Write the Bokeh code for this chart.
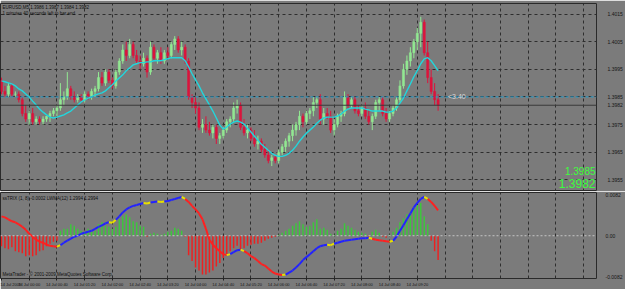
from bokeh.plotting import figure
from bokeh.layouts import column
from bokeh.models import Range1d, FixedTicker, Grid, Span, Label, BasicTickFormatter, ColumnDataSource
from bokeh.embed import file_html
from bokeh.resources import INLINE

# ---------------- texts ----------------
symbol_header = "EURUSD,M5  1.3986 1.3987 1.3984 1.3982"
timer_text = "1 minutes 40 seconds left to bar end"
indicator_header = "ssTRIX (1, 8) -0.0002  LWMA(12)  1.2994  1.2994"
copyright_text = "MetaTrader - \u00a9 2001-2009 MetaQuotes Software Corp."
line_label = "<3.40"
big_price_1 = "1.3985"
big_price_2 = "1.3982"

# ---------------- axes ----------------
time_tick_bars = [0, 8, 16, 24, 32, 40, 48, 56, 64, 72, 80, 88, 96, 104, 112, 120]
time_tick_labels = ["14 Jul 2009", "14 Jul 00:00", "14 Jul 00:40", "14 Jul 01:20", "14 Jul 02:00",
                    "14 Jul 02:40", "14 Jul 03:20", "14 Jul 04:00", "14 Jul 04:40", "14 Jul 05:20",
                    "14 Jul 06:00", "14 Jul 06:40", "14 Jul 07:20", "14 Jul 08:00", "14 Jul 08:40",
                    "14 Jul 09:20"]
grid_bars = [8, 16, 24, 32, 40, 48, 56, 64, 72, 80, 88, 96, 104, 112, 120, 128, 136, 144, 152, 160, 168]
price_ticks = [1.3955, 1.3965, 1.3975, 1.3985, 1.3995, 1.4005, 1.4015]
ind_ticks = [-0.0082, 0, 0.0082]
ind_tick_labels = ["-0.0082", "0.00", "0.0082"]
bid_price = 1.3982
hline_price = 1.3985

# ---------------- data ----------------
first_open = 1.3991
closes = [1.3987, 1.3986, 1.3989, 1.3986, 1.3986, 1.3984, 1.3979, 1.3977, 1.3979, 1.3976,
          1.3977, 1.3976, 1.3977, 1.3978, 1.3979, 1.3980, 1.3981, 1.3984, 1.3985, 1.3988,
          1.3985, 1.3984, 1.3985, 1.3984, 1.3986, 1.3985, 1.3987, 1.3988, 1.3992, 1.3990,
          1.3994, 1.3991, 1.3989, 1.3994, 1.3998, 1.4002, 1.4000, 1.4004, 1.4000, 1.3998,
          1.3997, 1.3999, 1.3994, 1.4003, 1.3999, 1.4001, 1.3998, 1.4001, 1.4000, 1.4004,
          1.4006, 1.4002, 1.4003, 1.3998, 1.3985, 1.3983, 1.3981, 1.3974, 1.3975, 1.3973,
          1.3972, 1.3974, 1.3970, 1.3971, 1.3973, 1.3976, 1.3977, 1.3981, 1.3982, 1.3974,
          1.3972, 1.3973, 1.3970, 1.3968, 1.3969, 1.3966, 1.3964, 1.3962, 1.3963, 1.3962,
          1.3965, 1.3967, 1.3969, 1.3971, 1.3973, 1.3975, 1.3978, 1.3976, 1.3979, 1.3980,
          1.3983, 1.3984, 1.3977, 1.3979, 1.3978, 1.3973, 1.3975, 1.3978, 1.3979, 1.3985,
          1.3982, 1.3984, 1.3980, 1.3979, 1.3981, 1.3978, 1.3976, 1.3978, 1.3983, 1.3984,
          1.3979, 1.3977, 1.3979, 1.3981, 1.3984, 1.3989, 1.3995, 1.3998, 1.4001, 1.4005,
          1.4008, 1.4012, 1.4001, 1.3992, 1.3987, 1.3984, 1.3982]
highs = [1.3992, 1.3989, 1.3990, 1.3990, 1.3987, 1.3987, 1.3985, 1.3982, 1.3980, 1.3981,
         1.3978, 1.3978, 1.3978, 1.3978, 1.3980, 1.3981, 1.3982, 1.3990, 1.3987, 1.3994,
         1.3989, 1.3987, 1.3986, 1.3986, 1.3987, 1.3987, 1.3988, 1.3989, 1.3994, 1.3994,
         1.3995, 1.3995, 1.3992, 1.3995, 1.3999, 1.4004, 1.4005, 1.4006, 1.4005, 1.4002,
         1.4000, 1.4001, 1.4000, 1.4005, 1.4004, 1.4002, 1.4003, 1.4002, 1.4003, 1.4005,
         1.4007, 1.4007, 1.4005, 1.4004, 1.3999, 1.3986, 1.3985, 1.3983, 1.3977, 1.3978,
         1.3976, 1.3975, 1.3975, 1.3972, 1.3974, 1.3977, 1.3978, 1.3983, 1.3984, 1.3983,
         1.3977, 1.3975, 1.3974, 1.3973, 1.3971, 1.3970, 1.3968, 1.3966, 1.3964, 1.3964,
         1.3966, 1.3968, 1.3970, 1.3972, 1.3975, 1.3976, 1.3980, 1.3979, 1.3980, 1.3981,
         1.3985, 1.3985, 1.3986, 1.3981, 1.3981, 1.3980, 1.3977, 1.3979, 1.3980, 1.3987,
         1.3986, 1.3985, 1.3985, 1.3982, 1.3982, 1.3983, 1.3980, 1.3979, 1.3984, 1.3985,
         1.3985, 1.3981, 1.3980, 1.3982, 1.3985, 1.3991, 1.3997, 1.4000, 1.4003, 1.4006,
         1.4010, 1.4014, 1.4013, 1.4005, 1.3995, 1.3990, 1.3986]
lows = [1.3986, 1.3985, 1.3985, 1.3985, 1.3985, 1.3983, 1.3978, 1.3976, 1.3975, 1.3975,
        1.3975, 1.3975, 1.3975, 1.3976, 1.3976, 1.3978, 1.3978, 1.3980, 1.3982, 1.3984,
        1.3984, 1.3983, 1.3983, 1.3983, 1.3983, 1.3984, 1.3984, 1.3985, 1.3987, 1.3989,
        1.3989, 1.3990, 1.3988, 1.3988, 1.3993, 1.3997, 1.3998, 1.3999, 1.3999, 1.3997,
        1.3995, 1.3996, 1.3992, 1.3993, 1.3998, 1.3997, 1.3997, 1.3997, 1.3999, 1.3999,
        1.4002, 1.4001, 1.4000, 1.3997, 1.3984, 1.3981, 1.3979, 1.3973, 1.3972, 1.3972,
        1.3971, 1.3970, 1.3968, 1.3968, 1.3970, 1.3972, 1.3974, 1.3976, 1.3979, 1.3973,
        1.3971, 1.3970, 1.3969, 1.3967, 1.3966, 1.3965, 1.3963, 1.3961, 1.3960, 1.3961,
        1.3961, 1.3964, 1.3965, 1.3967, 1.3969, 1.3971, 1.3973, 1.3974, 1.3975, 1.3977,
        1.3978, 1.3981, 1.3975, 1.3975, 1.3977, 1.3972, 1.3971, 1.3974, 1.3976, 1.3978,
        1.3981, 1.3981, 1.3979, 1.3978, 1.3978, 1.3977, 1.3975, 1.3973, 1.3977, 1.3980,
        1.3978, 1.3976, 1.3976, 1.3978, 1.3980, 1.3983, 1.3988, 1.3993, 1.3996, 1.3999,
        1.4002, 1.4003, 1.4000, 1.3990, 1.3986, 1.3982, 1.3980]
ma = [1.39908, 1.39905, 1.39901, 1.39897, 1.39890, 1.39879, 1.39872, 1.39861, 1.39850, 1.39835,
      1.39821, 1.39806, 1.39795, 1.39785, 1.39777, 1.39774, 1.39777, 1.39781, 1.39785, 1.39792,
      1.39799, 1.39810, 1.39821, 1.39832, 1.39839, 1.39846, 1.39850, 1.39857, 1.39861, 1.39865,
      1.39872, 1.39883, 1.39894, 1.39908, 1.39919, 1.39930, 1.39945, 1.39955, 1.39966, 1.39970,
      1.39974, 1.39974, 1.39977, 1.39977, 1.39981, 1.39981, 1.39981, 1.39985, 1.39988, 1.39992,
      1.39992, 1.39992, 1.39992, 1.39981, 1.39959, 1.39934, 1.39912, 1.39890, 1.39865, 1.39843,
      1.39821, 1.39799, 1.39774, 1.39748, 1.39734, 1.39741, 1.39752, 1.39759, 1.39763, 1.39759,
      1.39752, 1.39737, 1.39723, 1.39708, 1.39694, 1.39679, 1.39668, 1.39657, 1.39646, 1.39639,
      1.39635, 1.39635, 1.39639, 1.39646, 1.39657, 1.39672, 1.39690, 1.39705, 1.39719, 1.39730,
      1.39741, 1.39755, 1.39766, 1.39774, 1.39777, 1.39777, 1.39777, 1.39781, 1.39788, 1.39799,
      1.39806, 1.39810, 1.39810, 1.39810, 1.39810, 1.39806, 1.39803, 1.39799, 1.39799, 1.39799,
      1.39799, 1.39795, 1.39795, 1.39799, 1.39810, 1.39828, 1.39846, 1.39872, 1.39897, 1.39923,
      1.39945, 1.39970, 1.39988, 1.39992, 1.39981, 1.39963, 1.39945]
trix = [0.0039, 0.0037, 0.0033, 0.0029, 0.0027, 0.0023, 0.0018, 0.0012, 0.0004, -0.0002,
        -0.0008, -0.0012, -0.0014, -0.0018, -0.0020, -0.0021, -0.0022, -0.0019, -0.0014, -0.0010,
        -0.0006, -0.0002, 0.0000, 0.0004, 0.0006, 0.0008, 0.0010, 0.0014, 0.0018, 0.0021,
        0.0025, 0.0027, 0.0026, 0.0032, 0.0039, 0.0047, 0.0053, 0.0057, 0.0060, 0.0062,
        0.0064, 0.0066, 0.0065, 0.0067, 0.0068, 0.0069, 0.0068, 0.0069, 0.0070, 0.0072,
        0.0074, 0.0076, 0.0078, 0.0074, 0.0068, 0.0060, 0.0053, 0.0045, 0.0033, 0.0014,
        -0.0008, -0.0018, -0.0025, -0.0031, -0.0037, -0.0039, -0.0037, -0.0033, -0.0029, -0.0028,
        -0.0031, -0.0035, -0.0041, -0.0045, -0.0051, -0.0057, -0.0060, -0.0066, -0.0072, -0.0076,
        -0.0078, -0.0079, -0.0078, -0.0074, -0.0070, -0.0064, -0.0057, -0.0049, -0.0043, -0.0037,
        -0.0031, -0.0025, -0.0021, -0.0019, -0.0018, -0.0019, -0.0016, -0.0014, -0.0012, -0.0010,
        -0.0009, -0.0008, -0.0007, -0.0006, -0.0005, -0.0005, -0.0004, -0.0006, -0.0008, -0.0009,
        -0.0010, -0.0011, -0.0012, -0.0010, -0.0002, 0.0010, 0.0021, 0.0033, 0.0045, 0.0057,
        0.0066, 0.0074, 0.0078, 0.0074, 0.0068, 0.0060, 0.0051]
hist = [-0.0021, -0.0025, -0.0027, -0.0023, -0.0031, -0.0033, -0.0035, -0.0041, -0.0039, -0.0041,
        -0.0039, -0.0031, -0.0029, -0.0021, -0.0016, -0.0012, -0.0010, 0.0010, 0.0014, 0.0014,
        0.0023, 0.0020, 0.0014, 0.0010, 0.0008, 0.0014, 0.0008, 0.0010, 0.0023, 0.0027,
        0.0020, 0.0018, 0.0014, 0.0018, 0.0033, 0.0039, 0.0043, 0.0037, 0.0029, 0.0027,
        0.0020, 0.0018, -0.0002, 0.0004, 0.0006, 0.0004, 0.0002, 0.0004, 0.0008, 0.0010,
        0.0016, 0.0014, 0.0010, -0.0002, -0.0039, -0.0051, -0.0064, -0.0070, -0.0078, -0.0078,
        -0.0074, -0.0070, -0.0062, -0.0055, -0.0045, -0.0037, -0.0031, -0.0025, -0.0020, -0.0029,
        -0.0025, -0.0020, -0.0018, -0.0016, -0.0016, -0.0014, -0.0010, -0.0006, -0.0004, -0.0002,
        0.0002, 0.0006, 0.0010, 0.0014, 0.0020, 0.0025, 0.0029, 0.0023, 0.0018, 0.0020,
        0.0027, 0.0033, 0.0014, 0.0016, 0.0012, 0.0004, 0.0002, 0.0010, 0.0014, 0.0025,
        0.0020, 0.0016, 0.0012, 0.0008, 0.0006, 0.0004, -0.0002, 0.0008, 0.0012, 0.0006,
        -0.0002, -0.0004, 0.0002, 0.0008, 0.0016, 0.0027, 0.0035, 0.0043, 0.0049, 0.0057,
        0.0062, 0.0066, 0.0039, 0.0023, -0.0010, -0.0031, -0.0049]

# ---------------- styling ----------------
BG = "#7b7b7b"
GRID = "#2e2e2e"
BULL = "#92e892"
BEAR = "#dc143c"
MA_COLOR = "#22d6dc"
FONT = "Liberation Sans"
RB = 23          # right border for price scale
W, H1, H2 = 625, 191, 98
BAR_PX = 3.5
frame_w = W - RB
x_start = -1.0 / BAR_PX
x_end = x_start + frame_w / BAR_PX
xr = Range1d(x_start, x_end)

n = len(closes)
idx = list(range(n))
opens = [first_open] + closes[:-1]

# ================= main price panel =================
y_lo, y_hi = 1.39508, 1.40188
p1 = figure(width=W, height=H1, x_range=xr, y_range=Range1d(y_lo, y_hi),
            output_backend="svg", toolbar_location=None,
            x_axis_location=None, y_axis_location="right",
            min_border_left=0, min_border_right=RB, min_border_top=3, min_border_bottom=0,
            background_fill_color=BG, border_fill_color=BG, outline_line_color="#2a2a2a")
p1.grid.visible = False
p1.add_layout(Grid(dimension=0, ticker=FixedTicker(ticks=grid_bars), grid_line_color=GRID,
                   grid_line_dash="3 3", grid_line_width=1))
p1.add_layout(Grid(dimension=1, ticker=FixedTicker(ticks=price_ticks), grid_line_color=GRID,
                   grid_line_dash="3 3", grid_line_width=1))

ya = p1.yaxis[0]
ya.ticker = FixedTicker(ticks=price_ticks + [bid_price])   # bid price marked on the scale
ya.formatter = BasicTickFormatter(precision=4, use_scientific=False)
ya.axis_line_color = None
ya.major_tick_line_color = None
ya.minor_tick_line_color = None
ya.major_label_text_font_size = "5px"
ya.major_label_text_font = FONT
ya.major_label_text_color = "#151515"
ya.major_label_standoff = 5

# bid line and horizontal line object
p1.add_layout(Span(location=bid_price, dimension="width", line_color="#3a3a3a", line_width=1))
p1.add_layout(Span(location=hline_price, dimension="width", line_color="#1f9fd0",
                   line_width=1, line_dash="3 2"))

candle = ColumnDataSource(dict(
    x=idx, o=opens, h=highs, l=lows, c=closes,
    top=[max(a, b) for a, b in zip(opens, closes)],
    bot=[min(a, b) for a, b in zip(opens, closes)],
    col=[BULL if c >= o else BEAR for o, c in zip(opens, closes)],
))
p1.segment(x0="x", y0="h", x1="x", y1="l", source=candle, line_color="col", line_width=1)
p1.vbar(x="x", top="top", bottom="bot", width=0.62, source=candle,
        fill_color="col", line_color="col", line_width=0.5)
p1.line(idx, ma, line_color=MA_COLOR, line_width=1.4)

p1.add_layout(Label(x=x_start, y=y_hi, x_offset=2, y_offset=-1, text=symbol_header,
                    text_baseline="top", text_font=FONT, text_font_size="4.5px",
                    text_color="#101010"))
p1.add_layout(Label(x=x_start, y=y_hi, x_offset=2, y_offset=-7, text=timer_text,
                    text_baseline="top", text_font=FONT, text_font_size="4.5px",
                    text_color="#101010"))
p1.add_layout(Label(x=(452 - 1) / BAR_PX, y=hline_price, text=line_label,
                    text_baseline="middle", text_font=FONT, text_font_size="7px",
                    text_color="#d8d8d8"))
p1.add_layout(Label(x=x_end, y=1.39581, x_offset=-1, text=big_price_1, text_align="right",
                    text_baseline="middle", text_font=FONT, text_font_size="10px",
                    text_color="#3cff3c"))
p1.add_layout(Label(x=x_end, y=1.39537, x_offset=-1, text=big_price_2, text_align="right",
                    text_baseline="middle", text_font=FONT, text_font_size="12px",
                    text_color="#3cff3c"))

# ================= indicator panel =================
p2 = figure(width=W, height=H2, x_range=xr, y_range=Range1d(-0.0086, 0.0087),
            output_backend="svg", toolbar_location=None,
            x_axis_location="below", y_axis_location="right",
            min_border_left=0, min_border_right=RB, min_border_top=1, min_border_bottom=9,
            background_fill_color=BG, border_fill_color=BG, outline_line_color="#2a2a2a")
p2.grid.visible = False
p2.add_layout(Grid(dimension=0, ticker=FixedTicker(ticks=grid_bars), grid_line_color=GRID,
                   grid_line_dash="3 3", grid_line_width=1))
p2.add_layout(Span(location=0, dimension="width", line_color="#c4c4c4", line_width=1,
                   line_dash="2 2"))

xa = p2.xaxis[0]
xa.ticker = FixedTicker(ticks=time_tick_bars)
xa.major_label_overrides = {b: t for b, t in zip(time_tick_bars, time_tick_labels)}
xa.major_label_text_align = "left"
xa.major_label_text_font_size = "4px"
xa.major_label_text_font = FONT
xa.major_label_text_color = "#151515"
xa.major_label_standoff = 1
xa.axis_line_color = None
xa.major_tick_line_color = "#202020"
xa.major_tick_in = 0
xa.major_tick_out = 2
xa.minor_tick_line_color = None

ya2 = p2.yaxis[0]
ya2.ticker = FixedTicker(ticks=ind_ticks)
ya2.major_label_overrides = {t: s for t, s in zip(ind_ticks, ind_tick_labels)}
ya2.axis_line_color = None
ya2.major_tick_line_color = None
ya2.minor_tick_line_color = None
ya2.major_label_text_font_size = "5px"
ya2.major_label_text_font = FONT
ya2.major_label_text_color = "#151515"
ya2.major_label_standoff = 3

hsrc = ColumnDataSource(dict(x=idx, top=hist,
                             col=["#3cc83c" if v >= 0 else "#ee2020" for v in hist]))
p2.vbar(x="x", top="top", bottom=0, width=0.42, source=hsrc, fill_color="col", line_color=None)

# colour each piece of the signal line by its direction; yellow where it turns
x0s, x1s, y0s, y1s, cols = [], [], [], [], []
prev_dir = None
for i in range(n - 1):
    d = 1 if trix[i + 1] > trix[i] else (-1 if trix[i + 1] < trix[i] else 0)
    if d == 0:
        d = prev_dir if prev_dir is not None else 1
    if prev_dir is not None and d != prev_dir:
        col = "#e8e000"
    else:
        col = "#2222ff" if d > 0 else "#ff2020"
    x0s.append(idx[i]); x1s.append(idx[i + 1]); y0s.append(trix[i]); y1s.append(trix[i + 1])
    cols.append(col)
    prev_dir = d
p2.segment(x0=x0s, y0=y0s, x1=x1s, y1=y1s, line_color=cols, line_width=2)

p2.add_layout(Label(x=x_start, y=0.0087, x_offset=2, y_offset=-3, text=indicator_header,
                    text_baseline="top", text_font=FONT, text_font_size="4.5px",
                    text_color="#101010"))
p2.add_layout(Label(x=x_start, y=-0.0086, x_offset=2, y_offset=2, text=copyright_text,
                    text_baseline="bottom", text_font=FONT, text_font_size="4.5px",
                    text_color="#101010"))

layout = column(p1, p2, spacing=0)
open("out.html", "w").write(file_html(layout, INLINE))
